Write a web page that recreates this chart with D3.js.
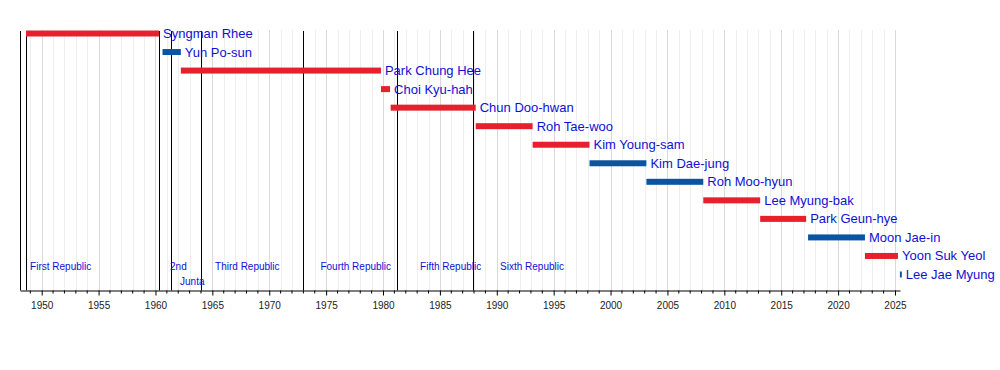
<!DOCTYPE html>
<html><head><meta charset="utf-8">
<script src="https://cdn.jsdelivr.net/npm/d3@7"></script>
<style>body{margin:0;background:#fff}svg{display:block}text{font-family:"Liberation Sans",Arial,sans-serif}</style>
</head><body><svg id="c" width="1000" height="370"></svg>
<script>
const presidents = ["Syngman Rhee","Yun Po-sun","Park Chung Hee","Choi Kyu-hah","Chun Doo-hwan","Roh Tae-woo","Kim Young-sam","Kim Dae-jung","Roh Moo-hyun","Lee Myung-bak","Park Geun-hye","Moon Jae-in","Yoon Suk Yeol","Lee Jae Myung"];
const termStart = [1948.62,1960.62,1962.23,1979.82,1980.67,1988.15,1993.15,1998.15,2003.15,2008.15,2013.15,2017.36,2022.36,2025.43];
const termEnd   = [1960.32,1962.23,1979.82,1980.62,1988.15,1993.15,1998.15,2003.15,2008.15,2013.15,2017.19,2022.36,2025.26,2025.6];
const party     = ["red","blue","red","red","red","red","red","blue","blue","red","red","blue","red","blue"];
const eraLines  = [1948.62,1960.32,1961.37,1963.97,1972.95,1981.21,1987.95];
const eraLabels = ["First Republic","2nd","Junta","Third Republic","Fourth Republic","Fifth Republic","Sixth Republic"];
const eraLabelYear = [1948.98,1961.28,1962.16,1965.24,1974.5,1983.26,1990.29];
const eraLabelRow  = [0,0,1,0,0,0,0];
const tickYears = d3.range(1950, 2026, 5);

const colors = {red:"#e8202e", blue:"#0a55a3"};
const textBlue = "#1010d4";
const svg = d3.select("#c");
const x = d3.scaleLinear().domain([1948.093, 2025.44]).range([20, 900]);
const y = d3.scaleLinear().domain([0, 13]).range([33.5, 274.5]);
const plotTop = 30, plotBottom = 290.5;

// grid
const minorYears = d3.range(1949, 2026).filter(v => v % 5 !== 0);
svg.append("g").selectAll("line").data(minorYears).join("line")
  .attr("x1", d => Math.round(x(d)) + 0.5).attr("x2", d => Math.round(x(d)) + 0.5)
  .attr("y1", plotTop).attr("y2", plotBottom).attr("stroke", "#eeeeee").attr("stroke-width", 1);
svg.append("g").selectAll("line").data(tickYears).join("line")
  .attr("x1", d => Math.round(x(d)) + 0.5).attr("x2", d => Math.round(x(d)) + 0.5)
  .attr("y1", plotTop).attr("y2", plotBottom).attr("stroke", "#d9d9d9").attr("stroke-width", 1);

// era lines
svg.append("g").selectAll("line").data([x.domain()[0]].concat(eraLines)).join("line")
  .attr("x1", d => Math.round(x(d)) + 0.5).attr("x2", d => Math.round(x(d)) + 0.5)
  .attr("y1", 31).attr("y2", plotBottom).attr("stroke", "#000").attr("stroke-width", 1);

// bars
svg.append("g").selectAll("rect").data(presidents).join("rect")
  .attr("x", (d, i) => x(termStart[i]))
  .attr("width", (d, i) => Math.max(1.5, x(termEnd[i]) - x(termStart[i])))
  .attr("y", (d, i) => y(i) - 3).attr("height", 6)
  .attr("fill", (d, i) => colors[party[i]]);

// names
svg.append("g").selectAll("text").data(presidents).join("text")
  .attr("x", (d, i) => x(termEnd[i]) + 4)
  .attr("y", (d, i) => y(i) + 4.5)
  .attr("font-size", 13).attr("fill", textBlue).text(d => d);

// era labels
svg.append("g").selectAll("text").data(eraLabels).join("text")
  .attr("x", (d, i) => x(eraLabelYear[i]))
  .attr("y", (d, i) => 270 + eraLabelRow[i] * 15)
  .attr("font-size", 10).attr("fill", textBlue).text(d => d);

// axis
const axis = d3.axisBottom(x).tickValues(tickYears).tickFormat(d3.format("d")).tickSize(5).tickSizeOuter(0);
const ag = svg.append("g").attr("transform", `translate(0,${plotBottom})`).call(axis);
ag.select(".domain").attr("stroke", "#000");
ag.selectAll(".tick text").attr("font-size", 10).attr("fill", "#222").attr("dy", "1.05em")
  .attr("font-family", "Liberation Sans, Arial, sans-serif");
ag.selectAll(".tick line").attr("stroke", "#000");
ag.append("g").selectAll("line").data(minorYears).join("line")
  .attr("x1", d => x(d)).attr("x2", d => x(d)).attr("y1", 0).attr("y2", 3).attr("stroke", "#000");
</script></body></html>
